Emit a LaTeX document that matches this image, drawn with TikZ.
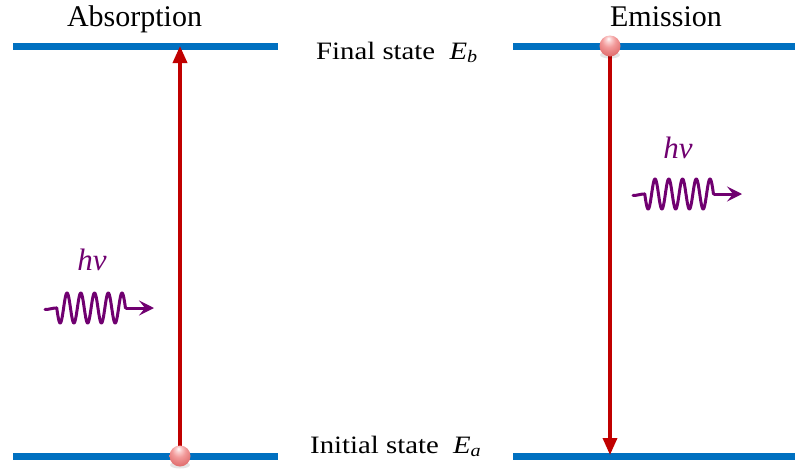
\documentclass[tikz,border=0pt]{standalone}
\usepackage{fontspec}
\setmainfont{Liberation Serif}
\newfontfamily\lblfont{Liberation Serif}[FakeStretch=1.15]
\usetikzlibrary{arrows.meta}
\definecolor{levelblue}{HTML}{0070C0}
\definecolor{arrowred}{HTML}{C00000}
\definecolor{photon}{HTML}{700070}
\definecolor{pinkA}{HTML}{FBD0D0}
\definecolor{pinkB}{HTML}{F29A9A}
\definecolor{pinkC}{HTML}{E06E6E}
\definecolor{pinkD}{HTML}{C85050}
\pgfdeclareradialshading{pinkball}{\pgfpoint{-4bp}{18bp}}{%
  color(0bp)=(white); color(6bp)=(pinkA); color(16bp)=(pinkB);
  color(32bp)=(pinkC); color(46bp)=(pinkD); color(60bp)=(pinkD)}
\begin{document}
\begin{tikzpicture}[x=1pt,y=-1pt,
  level/.style={draw=levelblue, line width=7pt},
  transition/.style={draw=arrowred, line width=3.5pt, -{Triangle[length=17pt,width=14pt]}},
  wave/.style={draw=photon, line width=3pt, line join=round, line cap=round},
  wavehead/.style={draw=photon, line width=3pt, -{Stealth[length=15pt,width=15pt,inset=6pt]}},
  title/.style={font=\fontsize{30}{36}\selectfont, anchor=base, inner sep=0pt},
  lbl/.style={font=\lblfont\fontsize{25}{30}\selectfont, anchor=base west, inner sep=0pt},
  hv/.style={font=\fontsize{31}{36}\selectfont\itshape, text=photon, anchor=base, inner sep=0pt},
  ballnode/.style={circle, minimum size=20pt, inner sep=0pt}
]
\useasboundingbox (0,0) rectangle (795,471);

% energy level end points
\coordinate (LTa) at (13,46);  \coordinate (LTb) at (278,46);
\coordinate (RTa) at (513,46); \coordinate (RTb) at (795,46);
\coordinate (LBa) at (13,456); \coordinate (LBb) at (278,456);
\coordinate (RBa) at (513,456);\coordinate (RBb) at (795,456);
\draw[level] (LTa) -- (LTb);
\draw[level] (RTa) -- (RTb);
\draw[level] (LBa) -- (LBb);
\draw[level] (RBa) -- (RBb);

% titles and labels
\node[title] (abs) at (134.5,27) {Absorption};
\node[title] (emi) at (666,26) {Emission};
\node[lbl] (final) at (316,59) {Final state\ \ \textit{E}\textsubscript{\textit{b}}};
\node[lbl] (init) at (310,453) {Initial state\ \ \textit{E}\textsubscript{\textit{a}}};

% electrons (balls)
\node[ballnode] (ballL) at (180,456) {};
\node[ballnode] (ballR) at (610,46) {};
\coordinate (tipL) at (180,46);
\coordinate (tipR) at (610,455);

% transitions
\draw[transition] (ballL.center) -- (tipL);
\draw[transition] (ballR.center) -- (tipR);

% ball drawing
\foreach \b in {ballL,ballR}{
  \fill[black, opacity=0.10] ([yshift=-9pt]\b.center) ellipse [x radius=10pt, y radius=3.5pt];
  \shade[shading=pinkball] (\b.center) circle [radius=10.5pt];
}

% photons
\node[hv] (hvL) at (92,270) {hν};
\node[hv] (hvR) at (678,158) {hν};
\coordinate (wL0) at (45,309.5); \coordinate (wL1) at (56.7,308);
\draw[wave] (wL0) to[out=0,in=180] (wL1);
\draw[wave] plot[variable=\t, domain=11.7:80.5, samples=200]
  ({45+\t}, {308 - 15*sin(((\t-18.6)/13.75)*360)});
\coordinate (wLs) at (125.5,308); \coordinate (wLe) at (154,308);
\draw[wavehead] (wLs) -- (wLe);
\coordinate (wR0) at (633,195.5); \coordinate (wR1) at (644.7,194);
\draw[wave] (wR0) to[out=0,in=180] (wR1);
\draw[wave] plot[variable=\t, domain=11.7:80.5, samples=200]
  ({633+\t}, {194 - 15*sin(((\t-18.6)/13.75)*360)});
\coordinate (wRs) at (713.5,194); \coordinate (wRe) at (742,194);
\draw[wavehead] (wRs) -- (wRe);
\end{tikzpicture}
\end{document}
